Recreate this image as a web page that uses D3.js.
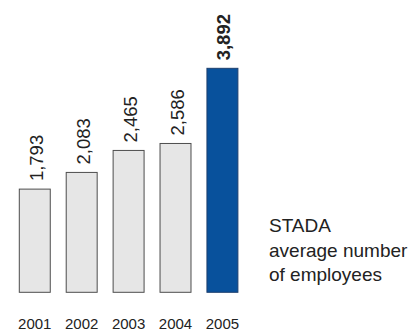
<!DOCTYPE html>
<html>
<head>
<meta charset="utf-8">
<script src="https://cdn.jsdelivr.net/npm/d3@7"></script>
<style>
  html, body { margin: 0; padding: 0; background: #fff; }
  svg { display: block; }
  text { font-family: "Liberation Sans", Arial, sans-serif; fill: #222; }
</style>
</head>
<body>
<svg id="chart" width="410" height="331"></svg>
<script>
// Average number of STADA employees per year
const years = ["2001", "2002", "2003", "2004", "2005"];
const employees = [1793, 2083, 2465, 2586, 3892];
const valueLabels = ["1,793", "2,083", "2,465", "2,586", "3,892"];
const legendLines = ["STADA", "average number", "of employees"];

const svg = d3.select("#chart");

const x = d3.scaleBand()
  .domain(years)
  .range([19.3, 237.9])
  .paddingInner(0.34)
  .paddingOuter(0);

const y = d3.scaleLinear()
  .domain([0, 4000])
  .range([292.3, 62.1]);

const data = years.map((yr, i) => ({ year: yr, value: employees[i], label: valueLabels[i], last: i === years.length - 1 }));

svg.append("g").selectAll("rect")
  .data(data)
  .join("rect")
  .attr("x", d => x(d.year))
  .attr("y", d => y(d.value))
  .attr("width", x.bandwidth())
  .attr("height", d => y(0) - y(d.value))
  .attr("fill", d => d.last ? "#08519c" : "#e6e6e6")
  .attr("stroke", d => d.last ? "#1d3f6e" : "#4d4d4d")
  .attr("stroke-width", 1);

// rotated value labels above each bar
svg.append("g").selectAll("text")
  .data(data)
  .join("text")
  .attr("transform", d => `translate(${x(d.year) + x.bandwidth() / 2 + 8},${y(d.value) - 8}) rotate(-90)`)
  .attr("font-size", 18.5)
  .attr("font-weight", d => d.last ? "bold" : "normal")
  .text(d => d.label);

// year axis below the bars
const axis = d3.axisBottom(x).tickSize(0).tickPadding(0);
const gx = svg.append("g").attr("transform", "translate(0,328.5)").call(axis);
gx.select(".domain").remove();
gx.selectAll("text")
  .attr("font-size", 15)
  .attr("y", 0)
  .attr("dy", 0)
  .style("font-family", "'Liberation Sans', Arial, sans-serif")
  .attr("fill", "#222");

// legend text block
svg.append("g").selectAll("text")
  .data(legendLines)
  .join("text")
  .attr("x", 269)
  .attr("y", (d, i) => 232 + i * 24.5)
  .attr("font-size", 19)
  .text(d => d);
</script>
</body>
</html>
